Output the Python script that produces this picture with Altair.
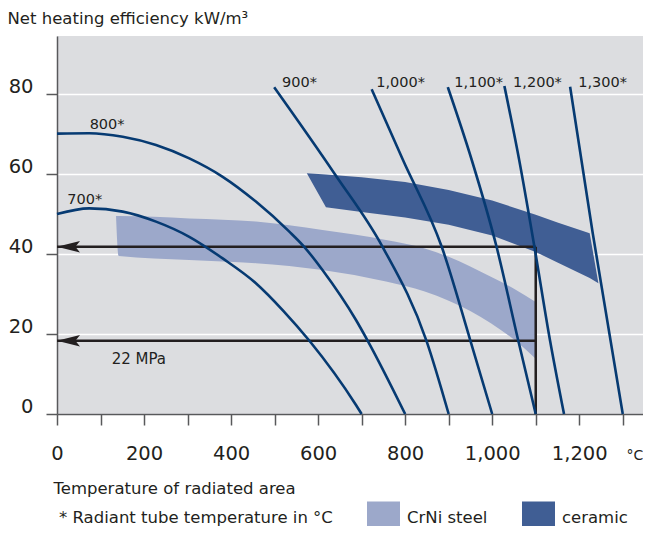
import altair as alt
import pandas as pd

FONT = "DejaVu Sans"
TXT = "#231f20"
NAVY = "#063a72"
BLACK = "#231f20"
AXIS = "#58595b"

# ---- data ----
crni_x = [135.6, 141.7, 304, 457, 610, 756, 845, 900, 997, 1050, 1100]
crni_top = [49.5, 49.5, 48.9, 48.1, 46.0, 43.5, 41.4, 39.3, 34.3, 31.3, 28.0]
crni_bot = [49.5, 39.5, 38.5, 37.7, 36.0, 33.1, 30.6, 28.3, 22.7, 18.6, 13.8]

cer_x = [574, 618, 700, 800, 900, 1000, 1100, 1150, 1224, 1244]
cer_top = [60.2, 59.9, 59.2, 58.0, 56.0, 53.4, 49.8, 47.9, 45.2, 32.7]
cer_bot = [60.2, 51.7, 50.5, 49.1, 47.3, 44.6, 40.5, 37.9, 34.0, 32.7]

c700_x = [0, 74, 151, 227.5, 304, 380.7, 457, 520, 580, 687, 700]
c700_y = [50, 51.4, 50.6, 48.1, 44.3, 38.9, 32.7, 25.8, 18.3, 2.25, 0]
c800_x = [0, 74, 151, 227.5, 304, 380.7, 457, 533.8, 568, 610, 687, 714, 800]
c800_y = [70.1, 70.2, 69.3, 67.25, 63.9, 59.3, 53.1, 45.6, 41.8, 36, 23.5, 18.3, 0]
c900_x = [499, 637, 748, 849, 900]
c900_y = [81.7, 60.2, 41.8, 18.3, 0]
c1000_x = [723, 795, 884, 950, 1000]
c1000_y = [81.2, 63.5, 41.8, 18.3, 0]
c1100_x = [898, 953, 1010, 1060, 1100]
c1100_y = [81.7, 63.5, 41.8, 18.3, 0]
c1200_x = [1028, 1062, 1097, 1133, 1165]
c1200_y = [82, 63.5, 41.8, 18.3, 0]
c1300_x = [1179, 1231, 1300]
c1300_y = [81.8, 45.2, 0]

curve_labels = ["700*", "800*", "900*", "1,000*", "1,100*", "1,200*", "1,300*"]
label_x = [23.7, 75, 517, 733.5, 913, 1048, 1197.6]
label_y = [52.5, 71.2, 81.75, 81.75, 81.75, 81.75, 81.75]

arrow_y = [41.8, 18.3]
arrow_x_end = 1100
mpa_text = "22 MPa"
mpa_x, mpa_y = 125.7, 12.4

materials = ["CrNi steel", "ceramic"]
material_colors = ["#9ca8ca", "#405e94"]

x_ticks = list(range(0, 1301, 100))
y_ticks = [0, 20, 40, 60, 80]

# ---- tables ----
def band_table(xs, ts, bs, m):
    return pd.DataFrame({"x": xs, "y": ts, "y2": bs, "material": [m] * len(xs)})

crni_df = band_table(crni_x, crni_top, crni_bot, materials[0])
cer_df = band_table(cer_x, cer_top, cer_bot, materials[1])

curve_rows = []
for name, xs, ys in [("700", c700_x, c700_y), ("800", c800_x, c800_y),
                     ("900", c900_x, c900_y), ("1000", c1000_x, c1000_y),
                     ("1100", c1100_x, c1100_y), ("1200", c1200_x, c1200_y),
                     ("1300", c1300_x, c1300_y)]:
    for xv, yv in zip(xs, ys):
        curve_rows.append({"x": xv, "y": yv, "curve": name})
curve_df = pd.DataFrame(curve_rows)

rule_df = pd.DataFrame([
    {"x": 0, "x2": arrow_x_end, "y": arrow_y[0], "y2": arrow_y[0]},
    {"x": 0, "x2": arrow_x_end, "y": arrow_y[1], "y2": arrow_y[1]},
    {"x": arrow_x_end, "x2": arrow_x_end, "y": arrow_y[0], "y2": 0},
])
head_df = pd.DataFrame({"x": [0, 0], "y": arrow_y})
lab_df = pd.DataFrame({"x": label_x, "y": label_y, "t": curve_labels})
mpa_df = pd.DataFrame({"x": [mpa_x], "y": [mpa_y], "t": [mpa_text]})
unit_df = pd.DataFrame({"x": [1328], "y": [-11.5], "t": ["°C"]})
foot_df = pd.DataFrame({"t": ["* Radiant tube temperature in °C"]})

# ---- encodings ----
xscale = alt.Scale(domain=[0, 1346.5], nice=False, zero=False)
yscale = alt.Scale(domain=[0, 94.5], nice=False, zero=False)

xaxis = alt.Axis(
    values=x_ticks, labelExpr="datum.value % 200 === 0 ? format(datum.value, ',') : ''",
    grid=False, domainColor=AXIS, domainWidth=1.5, tickColor=AXIS, tickWidth=1.5,
    tickSize=11, labelFont=FONT, labelFontSize=19.5, labelColor=TXT, labelPadding=19,
    labelFlush=False, labelOverlap=False,
    title="Temperature of radiated area", titleFont=FONT, titleFontSize=16.5,
    titleFontWeight="normal", titleColor=TXT, titleAnchor="start", titleAlign="left",
    titleBaseline="alphabetic", titleX=-4, titleY=79,
)
yaxis = alt.Axis(
    values=y_ticks, grid=True, gridColor="#ffffff", gridWidth=1.5,
    domainColor=AXIS, domainWidth=1.5, tickColor=AXIS, tickWidth=1.5, tickSize=11,
    labelFont=FONT, labelFontSize=19.5, labelColor=TXT, labelPadding=13,
    labelBaseline="alphabetic", labelOffset=-2, labelFlush=False,
    title="Net heating efficiency kW/m³", titleFont=FONT, titleFontSize=16.5,
    titleFontWeight="normal", titleColor=TXT, titleAngle=0, titleAlign="left",
    titleBaseline="alphabetic", titleX=-50, titleY=-13,
)

X = alt.X("x:Q", scale=xscale, axis=xaxis)
Y = alt.Y("y:Q", scale=yscale, axis=yaxis, stack=None)

color = alt.Color("material:N",
                  scale=alt.Scale(domain=materials, range=material_colors),
                  legend=alt.Legend(orient="none", legendX=310, legendY=465.5,
                                    direction="horizontal", title=None,
                                    symbolType="square", symbolSize=1089,
                                    symbolStrokeWidth=0, symbolOpacity=1,
                                    labelFont=FONT, labelFontSize=16.5,
                                    labelColor=TXT, labelOffset=7,
                                    columnPadding=34, padding=0))

crni = alt.Chart(crni_df).mark_area(opacity=1, interpolate="monotone").encode(
    x=X, y=Y, y2="y2:Q", color=color)
ceramic = alt.Chart(cer_df).mark_area(opacity=1, interpolate="linear").encode(
    x=X, y=Y, y2="y2:Q", color=color)

rules = alt.Chart(rule_df).mark_rule(color=BLACK, strokeWidth=2.5).encode(
    x=X, x2="x2:Q", y=Y, y2="y2:Q")

heads = alt.Chart(head_df).mark_point(
    shape="M0,0L2,-0.5L1.6,0L2,0.5Z", filled=True, size=529,
    color=BLACK, opacity=1, strokeWidth=0).encode(x=X, y=Y)

curves = alt.Chart(curve_df).mark_line(color=NAVY, strokeWidth=2.6,
                                       interpolate="monotone").encode(
    x=X, y=Y, detail="curve:N")

labels = alt.Chart(lab_df).mark_text(font=FONT, fontSize=14.5, color=TXT,
                                     align="left", baseline="alphabetic").encode(
    x=X, y=Y, text="t:N")

mpa = alt.Chart(mpa_df).mark_text(font=FONT, fontSize=15, color=TXT,
                                  align="left", baseline="alphabetic").encode(
    x=X, y=Y, text="t:N")

unit = alt.Chart(unit_df).mark_text(font=FONT, fontSize=14, color=TXT,
                                    align="center", baseline="alphabetic",
                                    clip=False).encode(x=X, y=Y, text="t:N")

foot = alt.Chart(foot_df).mark_text(font=FONT, fontSize=16.5, color=TXT,
                                    align="left", baseline="alphabetic").encode(
    x=alt.value(2), y=alt.value(487), text="t:N")

chart = alt.layer(crni, ceramic, rules, heads, curves, labels, mpa, unit, foot).properties(
    width=586, height=378,
    padding={"left": 49, "top": 28, "right": 0, "bottom": 112},
    autosize=alt.AutoSizeParams(type="none"),
    background="#ffffff",
).configure_view(fill="#dcdde0", stroke=None)

chart.save("out.html", embed_options={"renderer": "svg", "actions": False})
